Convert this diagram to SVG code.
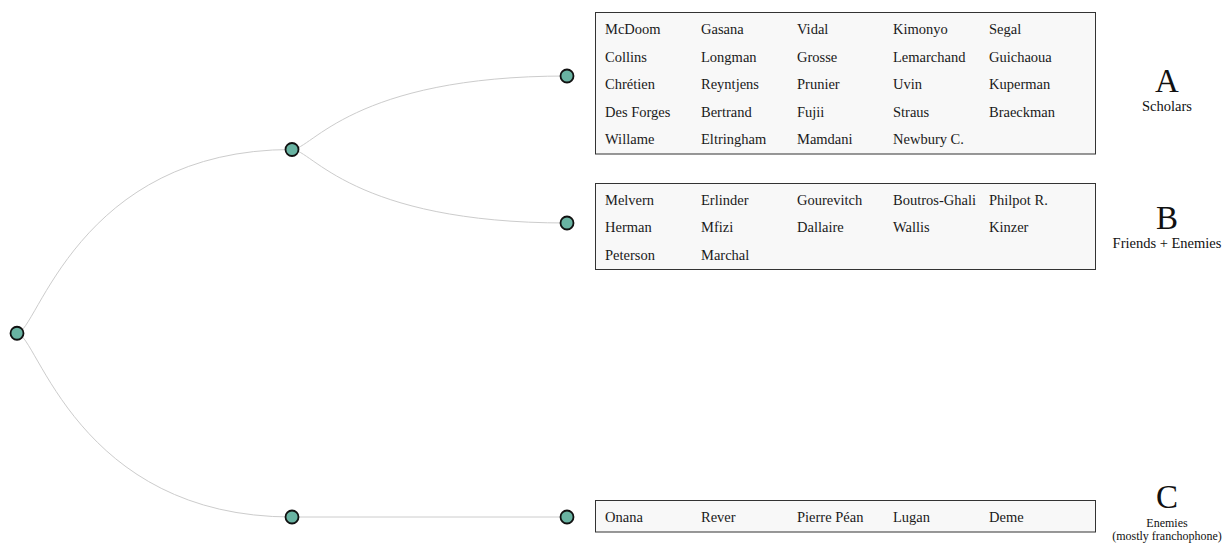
<svg xmlns="http://www.w3.org/2000/svg" width="1224" height="543" viewBox="0 0 1224 543">
  <style>
    .link { fill: none; stroke: #cccccc; stroke-width: 1; }
    .node circle { fill: #69b3a2; stroke: #111111; stroke-width: 1.8; }
    .box { fill: #f8f8f8; stroke: #333333; stroke-width: 1; }
    .name { font-family: "Liberation Serif", "Times New Roman", serif; font-size: 14.5px; fill: #1a1a1a; }
    .tag { font-family: "Liberation Serif", "Times New Roman", serif; fill: #111111; text-anchor: middle; }
    .big { font-size: 33px; }
    .sub { font-size: 14.5px; }
    .small { font-size: 12px; }
  </style>

  <!-- tree connectors -->
  <g id="links">
    <path class="link" d="M17,333.25 C37,333.25 77,149.5 292,149.5"/>
    <path class="link" d="M17,333.25 C37,333.25 77,517 292,517"/>
    <path class="link" d="M292,149.5 C312,149.5 352,76 567,76"/>
    <path class="link" d="M292,149.5 C312,149.5 352,223 567,223"/>
    <path class="link" d="M292,517 L567,517"/>
  </g>

  <!-- tree nodes -->
  <g id="node-root" class="node"><circle cx="17" cy="333.25" r="6.5"/></g>
  <g id="node-ab" class="node"><circle cx="292" cy="149.5" r="6.5"/></g>
  <g id="node-c-branch" class="node"><circle cx="292" cy="517" r="6.5"/></g>
  <g id="node-a" class="node"><circle cx="567" cy="76" r="6.5"/></g>
  <g id="node-b" class="node"><circle cx="567" cy="223" r="6.5"/></g>
  <g id="node-c" class="node"><circle cx="567" cy="517" r="6.5"/></g>

  <!-- group A: scholars -->
  <g id="group-a">
    <rect class="box" x="595.5" y="12.5" width="500" height="141.5"/>
    <g class="name">
      <text x="605" y="34.3">McDoom</text>
      <text x="701" y="34.3">Gasana</text>
      <text x="797" y="34.3">Vidal</text>
      <text x="893" y="34.3">Kimonyo</text>
      <text x="989" y="34.3">Segal</text>
      <text x="605" y="61.7">Collins</text>
      <text x="701" y="61.7">Longman</text>
      <text x="797" y="61.7">Grosse</text>
      <text x="893" y="61.7">Lemarchand</text>
      <text x="989" y="61.7">Guichaoua</text>
      <text x="605" y="89.1">Chrétien</text>
      <text x="701" y="89.1">Reyntjens</text>
      <text x="797" y="89.1">Prunier</text>
      <text x="893" y="89.1">Uvin</text>
      <text x="989" y="89.1">Kuperman</text>
      <text x="605" y="116.5">Des Forges</text>
      <text x="701" y="116.5">Bertrand</text>
      <text x="797" y="116.5">Fujii</text>
      <text x="893" y="116.5">Straus</text>
      <text x="989" y="116.5">Braeckman</text>
      <text x="605" y="143.9">Willame</text>
      <text x="701" y="143.9">Eltringham</text>
      <text x="797" y="143.9">Mamdani</text>
      <text x="893" y="143.9">Newbury C.</text>
    </g>
    <text class="tag big" x="1167" y="91.7">A</text>
    <text class="tag sub" x="1167" y="110.7">Scholars</text>
  </g>

  <!-- group B: friends + enemies -->
  <g id="group-b">
    <rect class="box" x="595.5" y="183.5" width="500" height="86"/>
    <g class="name">
      <text x="605" y="204.8">Melvern</text>
      <text x="701" y="204.8">Erlinder</text>
      <text x="797" y="204.8">Gourevitch</text>
      <text x="893" y="204.8">Boutros-Ghali</text>
      <text x="989" y="204.8">Philpot R.</text>
      <text x="605" y="232.2">Herman</text>
      <text x="701" y="232.2">Mfizi</text>
      <text x="797" y="232.2">Dallaire</text>
      <text x="893" y="232.2">Wallis</text>
      <text x="989" y="232.2">Kinzer</text>
      <text x="605" y="259.6">Peterson</text>
      <text x="701" y="259.6">Marchal</text>
    </g>
    <text class="tag big" x="1167" y="229">B</text>
    <text class="tag sub" x="1167" y="248">Friends + Enemies</text>
  </g>

  <!-- group C: enemies -->
  <g id="group-c">
    <rect class="box" x="595.5" y="500.5" width="500" height="31.5"/>
    <g class="name">
      <text x="605" y="521.8">Onana</text>
      <text x="701" y="521.8">Rever</text>
      <text x="797" y="521.8">Pierre Péan</text>
      <text x="893" y="521.8">Lugan</text>
      <text x="989" y="521.8">Deme</text>
    </g>
    <text class="tag big" x="1167" y="508">C</text>
    <text class="tag small" x="1167" y="526.5">Enemies</text>
    <text class="tag small" x="1167" y="539.5">(mostly franchophone)</text>
  </g>
</svg>
